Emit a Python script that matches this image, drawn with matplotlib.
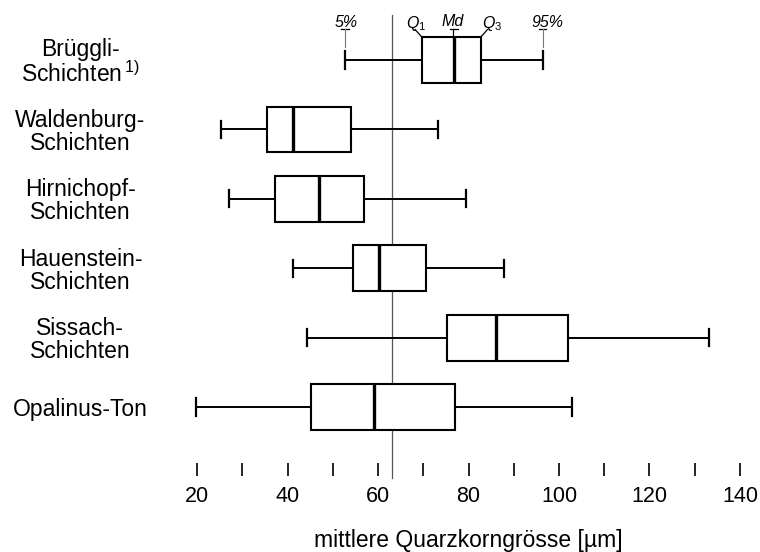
import matplotlib
matplotlib.use("Agg")
import matplotlib.pyplot as plt
from matplotlib.ticker import FixedLocator

plt.rcParams['font.family'] = ['Liberation Sans', 'DejaVu Sans']
plt.rcParams['mathtext.fontset'] = 'custom'
plt.rcParams['mathtext.rm'] = 'Liberation Sans'
plt.rcParams['mathtext.it'] = 'Liberation Sans:italic'
plt.rcParams['mathtext.bf'] = 'Liberation Sans:bold'
plt.rcParams['mathtext.default'] = 'rm'

# ---- data ----
categories = ["Brüggli-\nSchichten$\\,^{1)}$", "Waldenburg-\nSchichten",
              "Hirnichopf-\nSchichten", "Hauenstein-\nSchichten",
              "Sissach-\nSchichten", "Opalinus-Ton"]
p05 = [52.7, 25.2, 27.1, 41.3, 44.4, 19.8]
q1 = [69.7, 35.5, 37.2, 54.4, 75.3, 45.2]
med = [76.8, 41.3, 47.0, 60.2, 86.0, 59.0]
q3 = [82.7, 54.0, 57.0, 70.5, 102.1, 77.1]
p95 = [96.4, 73.3, 79.4, 87.9, 133.2, 102.9]
ref_value = 63
major_ticks = [20, 40, 60, 80, 100, 120, 140]
minor_ticks = [30, 50, 70, 90, 110, 130]
xlabel = "mittlere Quarzkorngrösse [µm]"

W, H = 760, 552
fig = plt.figure(figsize=(W / 100, H / 100), dpi=100)
ax_left, ax_right, ax_bottom, ax_top = 179, 758, 476, 0
ax = fig.add_axes([ax_left / W, (H - ax_bottom) / H,
                   (ax_right - ax_left) / W, (ax_bottom - ax_top) / H])

n = len(categories)
positions = [n - 1 - i for i in range(n)]
stats = []
for i in range(n):
    stats.append(dict(whislo=p05[i], q1=q1[i], med=med[i], q3=q3[i],
                      whishi=p95[i], fliers=[]))

ax.bxp(stats, positions=positions, widths=0.66, orientation='horizontal',
       patch_artist=True, showfliers=False, capwidths=0.25,
       boxprops=dict(facecolor='white', edgecolor='black', linewidth=1.5),
       medianprops=dict(color='black', linewidth=2.4),
       whiskerprops=dict(color='black', linewidth=1.4),
       capprops=dict(color='black', linewidth=1.6),
       zorder=3)

ax.set_xlim(16, 144)
ax.set_ylim(-0.994, 5.865)

# reference line
ax.axvline(ref_value, ymin=-0.005, ymax=0.968, color='#555555', lw=0.9,
           clip_on=False, zorder=2)

# x axis ticks (detached, pointing up)
ax.xaxis.set_major_locator(FixedLocator(major_ticks))
ax.xaxis.set_minor_locator(FixedLocator(minor_ticks))
ax.tick_params(axis='x', which='both', direction='in', length=9.5, width=1.2,
               color='black')
ax.tick_params(axis='x', which='major', labelsize=15.5, pad=7)
ax.set_xlabel(xlabel, fontsize=16.5)
ax.xaxis.set_label_coords(0.5, -0.111)

# y labels
ax.set_yticks(positions)
ax.set_yticklabels(categories, fontsize=16.5, linespacing=1.0)
for lab in ax.get_yticklabels():
    lab.set_horizontalalignment('center')
    lab.set_multialignment('center')
ax.tick_params(axis='y', length=0, pad=71)

for s in ax.spines.values():
    s.set_visible(False)

# top legend-like annotations on the first box
y0 = positions[0]
box_top = y0 + 0.33
t_y = y0 + 0.44
txt_y = y0 + 0.52
a_kw = dict(fontsize=11.5, style='italic', ha='center', va='center')
ax.text(p05[0] + 0.3, txt_y + 0.02, "5%", **a_kw)
ax.text(q1[0] - 1.2, txt_y, r"$\mathit{Q_1}$", **a_kw)
ax.text(med[0] - 0.4, txt_y + 0.03, "Md", **a_kw)
ax.text(q3[0] + 2.5, txt_y, r"$\mathit{Q_3}$", **a_kw)
ax.text(p95[0] + 1.0, txt_y + 0.02, "95%", **a_kw)

for xv in (p05[0], p95[0]):
    ax.plot([xv - 0.8, xv + 0.8], [t_y, t_y], color='black', lw=0.9)
    ax.plot([xv, xv], [t_y, y0 + 0.19], color='#777777', lw=0.8)
ax.plot([med[0] - 0.9, med[0] + 0.9], [t_y, t_y], color='black', lw=0.9)
ax.plot([med[0] - 0.2, med[0] - 0.2], [t_y, box_top], color='black', lw=0.9)
ax.plot([q1[0] - 1.5, q1[0]], [t_y, box_top], color='black', lw=0.9)
ax.plot([q3[0] + 1.5, q3[0]], [t_y, box_top], color='black', lw=0.9)

fig.savefig("out.png", dpi=100)
